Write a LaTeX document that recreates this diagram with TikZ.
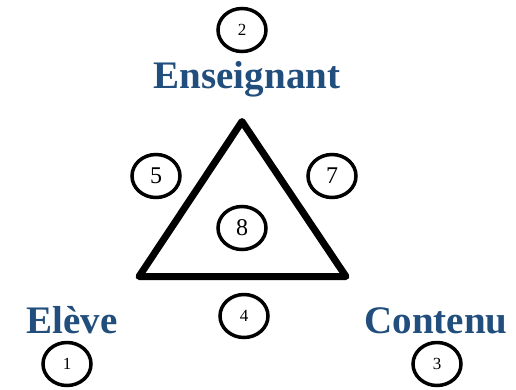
\documentclass[tikz,border=0pt]{standalone}
\usepackage{fontspec}
\setmainfont{Liberation Serif}
\usetikzlibrary{shapes.geometric}
\definecolor{titleblue}{RGB}{33,78,125}
\begin{document}
\begin{tikzpicture}[x=1pt,y=-1pt,
  numring/.style={draw=black, ellipse, line width=3.5pt, minimum width=48pt, minimum height=43pt, inner sep=0pt, font=\fontsize{17}{17}\selectfont},
  bignum/.style={numring, font=\fontsize{24}{24}\selectfont},
  role/.style={text=titleblue, font=\fontsize{39}{39}\selectfont\bfseries, anchor=base, inner sep=0pt}]
\useasboundingbox (0,0) rectangle (516,389);
\node[numring] (n2) at (242,30) {2};
\node[role] (ens) at (247,88) {Enseignant};
\coordinate (top) at (242,121.5);
\coordinate (bl) at (139,276.5);
\coordinate (br) at (346,276.5);
\draw[line width=7pt, line join=round] (top) -- (bl) -- (br) -- cycle;
\node[bignum] (n5) at (156,176) {5};
\node[bignum] (n7) at (332,176) {7};
\node[bignum] (n8) at (242,228) {8};
\node[numring] (n4) at (244,316) {4};
\node[role] (eleve) at (72,333) {Elève};
\node[role] (contenu) at (436,333) {Contenu};
\node[numring] (n1) at (67,364) {1};
\node[numring] (n3) at (437,364) {3};
\end{tikzpicture}
\end{document}
